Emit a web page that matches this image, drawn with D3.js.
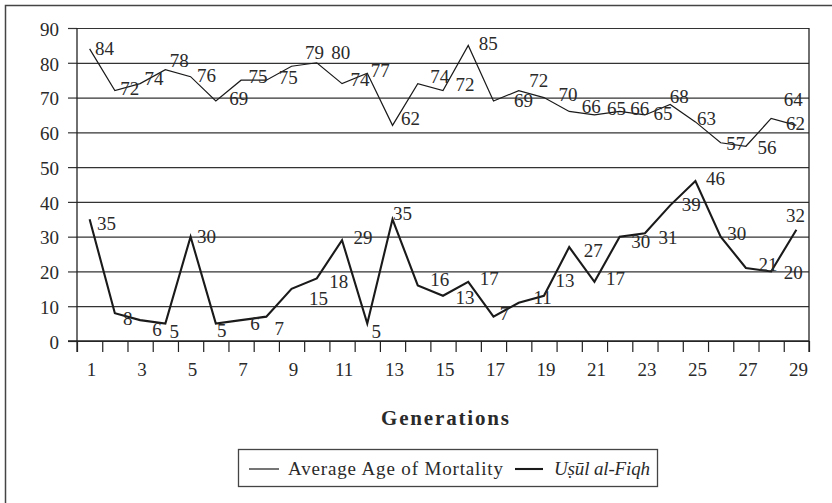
<!DOCTYPE html>
<html>
<head>
<meta charset="utf-8">
<script src="https://cdn.jsdelivr.net/npm/d3@7/dist/d3.min.js"></script>
<style>
  html, body { margin: 0; padding: 0; background: #fff; }
  svg { display: block; }
  text { font-family: "Liberation Serif", "Times New Roman", serif; fill: #2a2a2a; }
</style>
</head>
<body>
<svg id="chart" width="832" height="503"></svg>
<script>
// ---- data ----
const categories = [1,2,3,4,5,6,7,8,9,10,11,12,13,14,15,16,17,18,19,20,21,22,23,24,25,26,27,28,29];
const mortality = [84,72,74,78,76,69,75,75,79,80,74,77,62,74,72,85,69,72,70,66,65,66,65,68,63,57,56,64,62];
const usul = [35,8,6,5,30,5,6,7,15,18,29,5,35,16,13,17,7,11,13,27,17,30,31,39,46,30,21,20,32];
const yTicks = [0,10,20,30,40,50,60,70,80,90];
const xTickLabels = [1,3,5,7,9,11,13,15,17,19,21,23,25,27,29];
const seriesNames = ["Average Age of Mortality", "Uṣūl al-Fiqh"];
const xTitle = "Generations";

// label placement offsets (dx, dy) relative to each point
const mortalityLabelOffset = [[15,-1],[15,-2],[14,-5],[14,-10],[16,-2],[23,-3],[17,-4],[22,-3],[23,-14],[24,-11],
  [18,-4],[13,-3],[18,-7],[22,-7],[22,-6],[20,-2],[30,-1],[20,-10],[24,-3],[22,-5],
  [22,-7],[20,-3],[18,-2],[9,-8],[11,-4],[15,0],[21,1],[22,-19],[-1,-2]];
const usulLabelOffset = [[17,4],[13,5],[17,9],[9,8],[16,-1],[6,7],[14,3],[13,12],[27,9],[22,3],
  [21,-3],[9,8],[10,-6],[22,-6],[22,1],[21,-4],[11,-3],[24,-6],[21,-16],[24,3],
  [21,-4],[21,4],[23,4],[21,-1],[20,-3],[16,-4],[22,-4],[22,1],[-1,-15]];

// ---- layout ----
const svg = d3.select("#chart");
const pL = 77, pR = 809, pT = 28, pB = 341;

const x = d3.scaleBand().domain(categories).range([pL, pR]).padding(0);
const xEdge = d3.scaleLinear().domain([0.5, 29.5]).range([pL, pR]);
const y = d3.scaleLinear().domain([0, 90]).range([pB, pT]);
const cx = c => x(c) + x.bandwidth() / 2;

// outer frame (extends beyond the window on right & bottom)
svg.append("rect").attr("x", 5.5).attr("y", 5.5).attr("width", 900).attr("height", 600)
  .attr("fill", "none").attr("stroke", "#444").attr("stroke-width", 1.5);

// gridlines
const grid = svg.append("g").attr("transform", `translate(${pL},0)`)
  .call(d3.axisLeft(y).tickValues(yTicks).tickSize(-(pR - pL)).tickFormat(""));
grid.select(".domain").remove();
grid.selectAll("line").attr("stroke", "#333").attr("stroke-width", 1.2);

// y axis
const yAxis = svg.append("g").attr("transform", `translate(${pL},0)`)
  .call(d3.axisLeft(y).tickValues(yTicks).tickSize(9).tickPadding(9));
yAxis.select(".domain").remove();
yAxis.selectAll("line").attr("stroke", "#333").attr("stroke-width", 1.2);
yAxis.selectAll("text").attr("font-family", "Liberation Serif, serif").attr("font-size", 19)
  .attr("fill", "#2a2a2a").attr("dy", "0.38em");

// x axis tick marks at band edges
const xTicksG = svg.append("g").attr("transform", `translate(0,${pB})`)
  .call(d3.axisBottom(xEdge).tickValues(d3.range(0.5, 30, 1)).tickSize(11).tickFormat(""));
xTicksG.select(".domain").remove();
xTicksG.selectAll("line").attr("stroke", "#222").attr("stroke-width", 1.2);

// x axis labels
const xLab = svg.append("g").attr("transform", `translate(0,${pB})`)
  .call(d3.axisBottom(x).tickValues(xTickLabels).tickSize(0).tickPadding(22));
xLab.select(".domain").remove();
xLab.selectAll("text").attr("font-family", "Liberation Serif, serif").attr("font-size", 19)
  .attr("fill", "#2a2a2a").attr("dx", 2);

// axis lines / plot frame
svg.append("line").attr("x1", pL).attr("x2", pL).attr("y1", pT).attr("y2", pB + 11)
  .attr("stroke", "#222").attr("stroke-width", 1.3);
svg.append("line").attr("x1", pR).attr("x2", pR).attr("y1", pT).attr("y2", pB + 11)
  .attr("stroke", "#222").attr("stroke-width", 1.3);
svg.append("line").attr("x1", pL - 9).attr("x2", pR).attr("y1", pB).attr("y2", pB)
  .attr("stroke", "#222").attr("stroke-width", 1.3);

// lines
const line = d3.line().x((d, i) => cx(categories[i])).y(d => y(d));
svg.append("path").datum(mortality).attr("d", line)
  .attr("fill", "none").attr("stroke", "#1a1a1a").attr("stroke-width", 1.2);
svg.append("path").datum(usul).attr("d", line)
  .attr("fill", "none").attr("stroke", "#1a1a1a").attr("stroke-width", 2.1);

// data labels
function labels(data, offs) {
  svg.append("g").selectAll("text").data(data).join("text")
    .attr("x", (d, i) => cx(categories[i]) + offs[i][0])
    .attr("y", (d, i) => y(d) + offs[i][1])
    .attr("dy", "0.36em")
    .attr("text-anchor", "middle")
    .attr("font-size", 19)
    .text(d => d);
}
labels(mortality, mortalityLabelOffset);
labels(usul, usulLabelOffset);

// x title
svg.append("text").attr("x", 445).attr("y", 425).attr("text-anchor", "middle")
  .attr("font-size", 21).attr("font-weight", "bold").attr("textLength", 128)
  .attr("lengthAdjust", "spacing").text(xTitle);

// legend
const lg = svg.append("g");
lg.append("rect").attr("x", 238.5).attr("y", 449.5).attr("width", 419).attr("height", 37)
  .attr("fill", "none").attr("stroke", "#444").attr("stroke-width", 1.3);
lg.append("line").attr("x1", 249).attr("x2", 279).attr("y1", 469).attr("y2", 469)
  .attr("stroke", "#1a1a1a").attr("stroke-width", 1.2);
lg.append("text").attr("x", 288).attr("y", 475).attr("font-size", 19)
  .attr("textLength", 215).attr("lengthAdjust", "spacing").text(seriesNames[0]);
lg.append("line").attr("x1", 515).attr("x2", 543).attr("y1", 469).attr("y2", 469)
  .attr("stroke", "#1a1a1a").attr("stroke-width", 2.1);
lg.append("text").attr("x", 554).attr("y", 475).attr("font-size", 19).attr("font-style", "italic")
  .attr("textLength", 96).attr("lengthAdjust", "spacing").text(seriesNames[1]);
</script>
</body>
</html>
